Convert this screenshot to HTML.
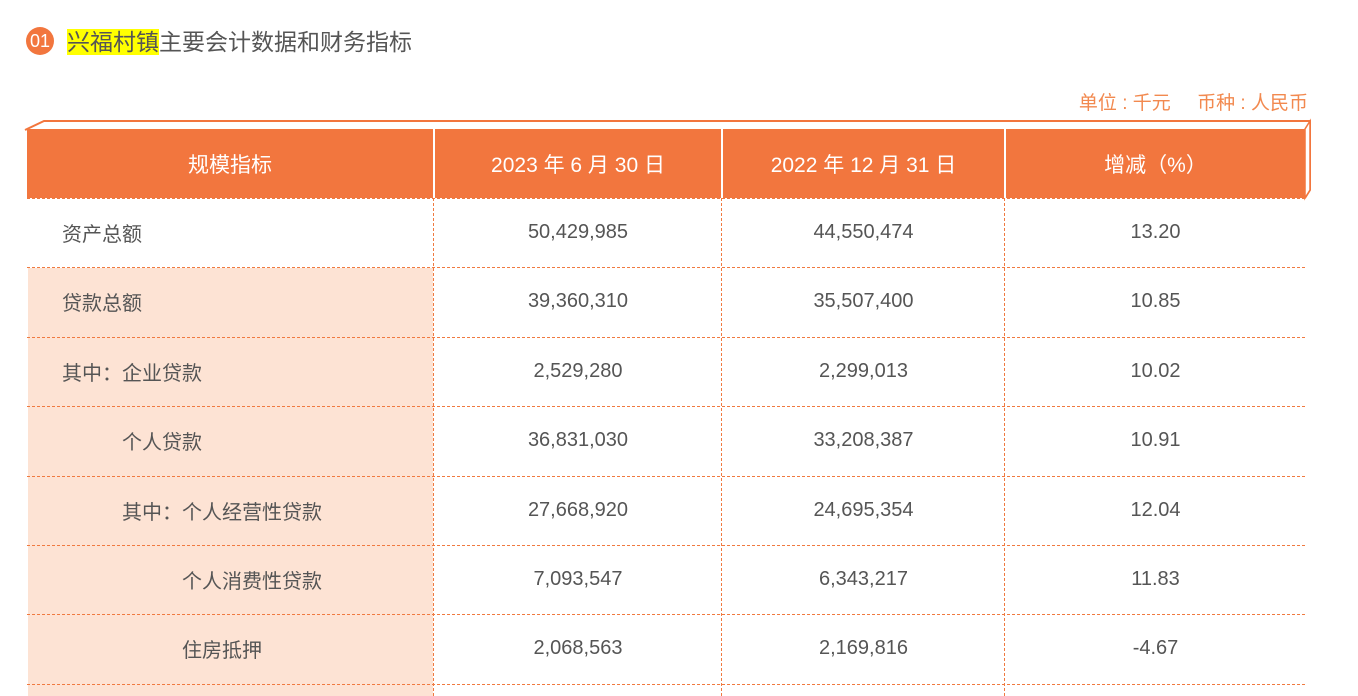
<!DOCTYPE html>
<html><head><meta charset="utf-8">
<style>
body{margin:0;width:1358px;height:696px;background:#fff;overflow:hidden;position:relative;font-family:"Liberation Sans","Noto Sans CJK SC",sans-serif;color:#555}
.abs{position:absolute}
.hd{position:absolute;top:129px;height:69px;background:#f2763e;color:#fff;font-size:21px;display:flex;align-items:center;justify-content:center}
.cell{position:absolute;height:69px;display:flex;align-items:center;font-size:20px;color:#555}
.num{justify-content:center}
.hl{position:absolute;left:27px;width:1278px;border-top:1.5px dashed #f07a40;height:0}
.vl{position:absolute;top:198px;bottom:0;border-left:1.5px dashed #f07a40;width:0}
</style></head><body>
<div class="abs" style="left:26px;top:27px;width:28px;height:28px;border-radius:50%;background:#f2763e;color:#fff;font-size:18px;display:flex;align-items:center;justify-content:center">01</div>
<div class="abs" style="left:67px;top:26px;font-size:23px;line-height:32px;color:#555"><span style="background:#ffff00">兴福村镇</span>主要会计数据和财务指标</div>
<div class="abs" style="right:50px;top:88px;font-size:19px;color:#f2894f">单位 : 千元&nbsp;&nbsp;&nbsp;&nbsp;&nbsp;币种 : 人民币</div>
<svg class="abs" style="left:0;top:0" width="1358" height="210">
<polyline points="25,130 44,121 1310,121 1310,190 1305,198" fill="none" stroke="#f2763e" stroke-width="2"/>
<polygon points="1305,129 1310,121 1310,190 1305,198" fill="#fff" stroke="#f2763e" stroke-width="1.5"/>
</svg>
<div class="abs" style="left:28px;top:268px;width:405px;height:428px;background:#fde3d4"></div>
<div class="hd" style="left:27px;width:406px">规模指标</div>
<div class="hd" style="left:435px;width:286px">2023 年 6 月 30 日</div>
<div class="hd" style="left:723px;width:281px">2022 年 12 月 31 日</div>
<div class="hd" style="left:1006px;width:299px">增减（%）</div>
<div id="rows"></div>
<div class="vl" style="left:433px"></div>
<div class="vl" style="left:721px"></div>
<div class="vl" style="left:1004px"></div>
<script>
const labels=["资产总额","贷款总额","其中：企业贷款","个人贷款","其中：个人经营性贷款","个人消费性贷款","住房抵押"];
const indents=[62,62,62,122,122,182,182];
const v2023=["50,429,985","39,360,310","2,529,280","36,831,030","27,668,920","7,093,547","2,068,563"];
const v2022=["44,550,474","35,507,400","2,299,013","33,208,387","24,695,354","6,343,217","2,169,816"];
const chg=["13.20","10.85","10.02","10.91","12.04","11.83","-4.67"];
const root=document.getElementById('rows');
for(let i=0;i<labels.length;i++){
  const top=198+i*69.4;
  const hl=document.createElement('div');hl.className='hl';hl.style.top=top+'px';
  
  
  root.appendChild(hl);
  const a=document.createElement('div');a.className='cell';a.style.top=top+'px';a.style.left=indents[i]+'px';a.textContent=labels[i];
  
  
  root.appendChild(a);
  const cols=[[435,286,v2023[i]],[723,281,v2022[i]],[1006,299,chg[i]]];
  cols.forEach(c=>{const d=document.createElement('div');d.className='cell num';d.style.top=top+'px';d.style.left=c[0]+'px';d.style.width=c[1]+'px';d.textContent=c[2];
    
    
    root.appendChild(d);});
}
const last=document.createElement('div');last.className='hl';last.style.top=(198+7*69.4)+'px';


root.appendChild(last);
</script>
</body></html>
